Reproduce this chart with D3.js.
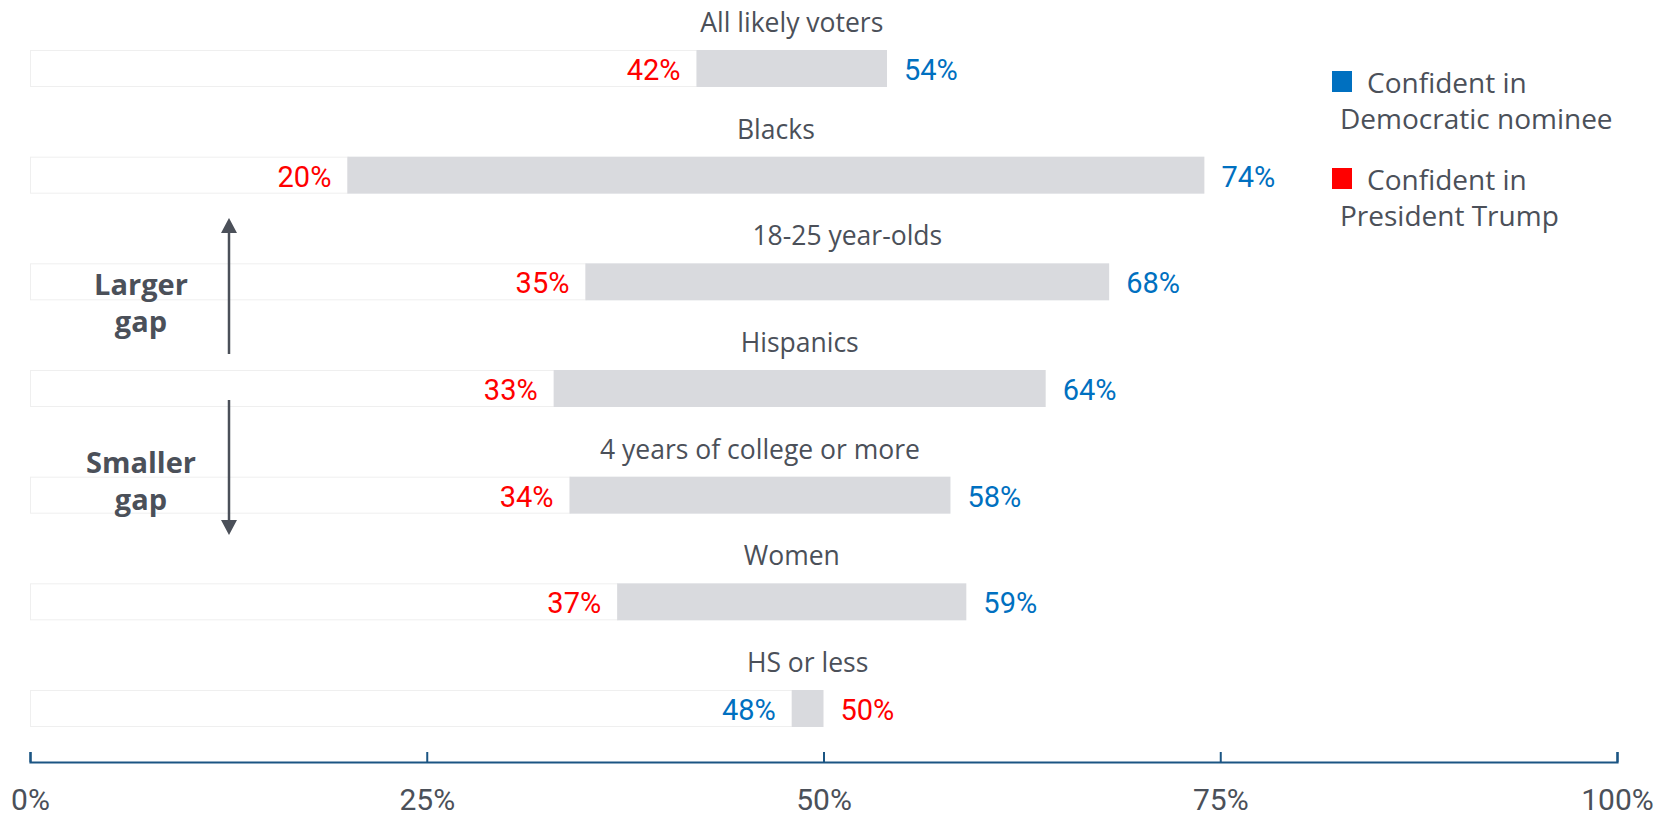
<!DOCTYPE html>
<html><head><meta charset="utf-8">
<script src="https://cdn.jsdelivr.net/npm/d3@7"></script>
<style>body{margin:0;background:#fff;} svg{display:block}</style>
</head><body><svg id="chart" width="1669" height="816"></svg>
<script>
const categories = ["All likely voters","Blacks","18-25 year-olds","Hispanics","4 years of college or more","Women","HS or less"];
const demValues = [54,74,68,64,58,59,48];
const trumpValues = [42,20,35,33,34,37,50];
const tickValues = [0,25,50,75,100];
const seriesNames = [["Confident in","Democratic nominee"],["Confident in","President Trump"]];
const seriesColors = ["#0070c0","#ff0000"];
const annotationTexts = [["Larger","gap"],["Smaller","gap"]];

const TXT = "#4b5059";
const svg = d3.select("#chart");
const x = d3.scaleLinear().domain([0,100]).range([30,1617]);
const y = d3.scalePoint().domain(categories).range([68.5,708.5]);
const barH = 37;

const rows = categories.map((c,i)=>{
  const d = demValues[i], t = trumpValues[i];
  return {cat:c, lo:Math.min(d,t), hi:Math.max(d,t),
    loColor: t<=d ? seriesColors[1] : seriesColors[0],
    hiColor: t<=d ? seriesColors[0] : seriesColors[1]};
});

const g = svg.append("g");
// tracks
g.selectAll("rect.track").data(rows).join("rect").attr("class","track")
  .attr("x",x(0)+0.5).attr("y",d=>y(d.cat)-barH/2+0.5)
  .attr("width",d=>x(d.lo)-x(0)).attr("height",barH-1)
  .attr("fill","#fff").attr("stroke","#efefef").attr("stroke-width",1);
// gap bars
g.selectAll("rect.gap").data(rows).join("rect").attr("class","gap")
  .attr("x",d=>x(d.lo)).attr("y",d=>y(d.cat)-barH/2)
  .attr("width",d=>x(d.hi)-x(d.lo)).attr("height",barH)
  .attr("fill","#d9dade");
// value labels
g.selectAll("text.lo").data(rows).join("text").attr("class","lo")
  .attr("x",d=>x(d.lo)-16).attr("y",d=>y(d.cat)+11.5)
  .attr("text-anchor","end").attr("font-family","Roboto").attr("font-size",29)
  .attr("fill",d=>d.loColor).text(d=>d.lo+"%");
g.selectAll("text.hi").data(rows).join("text").attr("class","hi")
  .attr("x",d=>x(d.hi)+17).attr("y",d=>y(d.cat)+11.5)
  .attr("text-anchor","start").attr("font-family","Roboto").attr("font-size",29)
  .attr("fill",d=>d.hiColor).text(d=>d.hi+"%");
// category labels
g.selectAll("text.cat").data(rows).join("text").attr("class","cat")
  .attr("x",d=>(x(d.lo)+x(d.hi))/2).attr("y",d=>y(d.cat)-36.5)
  .attr("text-anchor","middle").attr("font-family","Open Sans").attr("font-size",26.5)
  .attr("fill",TXT).text(d=>d.cat);

// axis
const ax = svg.append("g").attr("transform","translate(0,762)")
  .call(d3.axisBottom(x).tickValues(tickValues).tickFormat(d=>d+"%")
    .tickSizeInner(-10).tickSizeOuter(-10).tickPadding(27));
ax.select(".domain").attr("stroke","#1b5583").attr("stroke-width",2.2);
ax.selectAll(".tick line").attr("stroke","#1b5583").attr("stroke-width",2);
ax.selectAll(".tick text").attr("font-family","Roboto").attr("font-size",30).attr("fill",TXT);

// legend
const leg = svg.append("g");
seriesNames.forEach((lines,i)=>{
  const top = 71 + i*97;
  leg.append("rect").attr("x",1332).attr("y",top).attr("width",20).attr("height",21).attr("fill",seriesColors[i]);
  leg.append("text").attr("x",1367).attr("y",top+22).attr("font-family","Open Sans").attr("font-size",28).attr("fill",TXT).text(lines[0]);
  leg.append("text").attr("x",1340).attr("y",top+58).attr("font-family","Open Sans").attr("font-size",28).attr("fill",TXT).text(lines[1]);
});

// annotation arrows
const ann = svg.append("g");
const ax0 = 229;
ann.append("line").attr("x1",ax0).attr("x2",ax0).attr("y1",354).attr("y2",230).attr("stroke",TXT).attr("stroke-width",2.5);
ann.append("path").attr("d",`M${ax0},218 L${ax0-8},233 L${ax0+8},233 Z`).attr("fill",TXT);
ann.append("line").attr("x1",ax0).attr("x2",ax0).attr("y1",400).attr("y2",522).attr("stroke",TXT).attr("stroke-width",2.5);
ann.append("path").attr("d",`M${ax0},535 L${ax0-8},520 L${ax0+8},520 Z`).attr("fill",TXT);
const annY = [[295,332],[473,510]];
annotationTexts.forEach((lines,i)=>{
  lines.forEach((t,j)=>{
    ann.append("text").attr("x",141).attr("y",annY[i][j]).attr("text-anchor","middle")
      .attr("font-family","Open Sans").attr("font-weight","bold").attr("font-size",29)
      .attr("fill",TXT).text(t);
  });
});
</script></body></html>
